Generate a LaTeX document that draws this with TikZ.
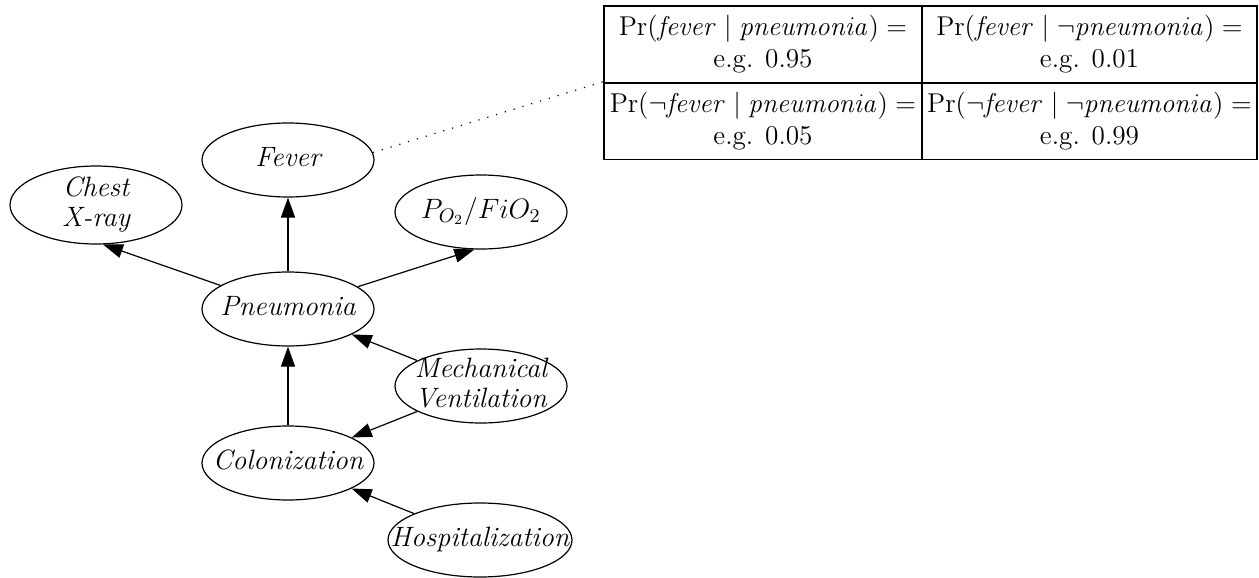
\RequirePackage{fix-cm}
\documentclass[tikz,border=0pt]{standalone}
\usepackage{amsmath}
\usetikzlibrary{arrows.meta,shapes.geometric}

% centred variable name that does not widen its ellipse
\newcommand{\vname}[1]{\makebox[0pt]{\begin{tabular}{@{}c@{}}#1\end{tabular}}}

\begin{document}
\begin{tikzpicture}[x=0.5pt, y=-0.5pt,
	var/.style={draw, ellipse, line width=0.6pt, inner sep=0pt,
		minimum width=86pt, minimum height=37pt, text height=8pt, text depth=1pt,
		font=\fontsize{14}{15}\selectfont\itshape},
	dep/.style={-{Triangle[length=10pt,width=7pt]}, line width=0.6pt},
	cpt/.style={draw, line width=0.8pt, inner sep=0pt, minimum height=38.5pt,
		align=center, font=\fontsize{13.6}{16}\selectfont}]
	\useasboundingbox (0,0) rectangle (1259,578);
	
	% Variables of the network
	\node[var] (fever) at (288,160) {\vname{Fever}};
	\node[var, minimum height=39pt] (chest) at (96,205) {\vname{Chest\\X-ray}};
	\node[var] (pofio) at (481,212) {\vname{$P_{O_2}/FiO_2$}};
	\node[var] (pneu) at (288,309) {\vname{Pneumonia}};
	\node[var] (mvent) at (481,386) {\vname{Mechanical\\Ventilation}};
	\node[var] (colon) at (288,463) {\vname{Colonization}};
	\node[var, minimum width=92pt] (hosp) at (480,540) {\vname{Hospitalization}};
	
	% Dependencies
	\draw[dep] (pneu) -- (chest.-80);
	\draw[dep] (pneu) -- (fever);
	\draw[dep] (pneu) -- (pofio.-100);
	\draw[dep] (mvent) -- (pneu);
	\draw[dep] (mvent) -- (colon);
	\draw[dep] (colon) -- (pneu);
	\draw[dep] (hosp) -- (colon);
	
	% Conditional probability table for Fever
	\node[cpt, minimum width=159pt] (c11) at (763,44.5)
		{$\Pr(\mathit{fever} \mid \mathit{pneumonia}) =$\\e.g. $0.95$};
	\node[cpt, minimum width=167.5pt] (c12) at (1089.5,44.5)
		{$\Pr(\mathit{fever} \mid \neg\mathit{pneumonia}) =$\\e.g. $0.01$};
	\node[cpt, minimum width=159pt] (c21) at (763,121)
		{$\Pr(\neg\mathit{fever} \mid \mathit{pneumonia}) =$\\e.g. $0.05$};
	\node[cpt, minimum width=167.5pt] (c22) at (1089.5,121)
		{$\Pr(\neg\mathit{fever} \mid \neg\mathit{pneumonia}) =$\\e.g. $0.99$};
	\draw[loosely dotted, line width=0.6pt] (fever.5) -- (c21.north west);
\end{tikzpicture}
\end{document}
